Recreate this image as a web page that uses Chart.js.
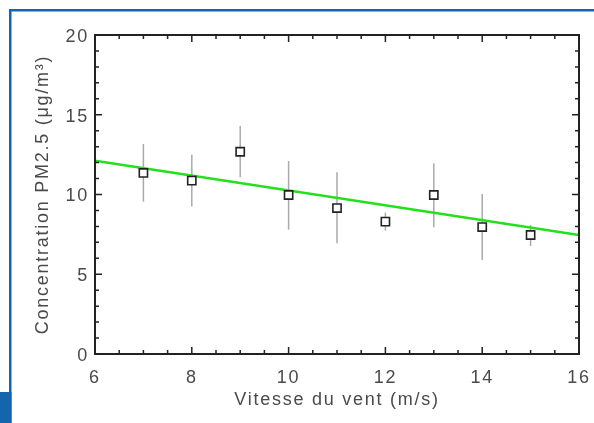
<!DOCTYPE html>
<html>
<head>
<meta charset="utf-8">
<script src="https://cdn.jsdelivr.net/npm/chart.js@4.4.1/dist/chart.umd.min.js"></script>
<style>
  html, body { margin: 0; padding: 0; background: #fff; }
  #wrap { width: 594px; height: 423px; position: relative; }
</style>
</head>
<body>
<div id="wrap"><canvas id="chart" width="594" height="423"></canvas></div>
<script>
// wind speed (m/s) and mean PM2.5 concentration with error bar limits
const windSpeed = [7, 8, 9, 10, 11, 12, 13, 14, 15];
const pm25 = [11.35, 10.87, 12.68, 9.97, 9.15, 8.3, 9.97, 7.96, 7.46];
const errLow = [9.55, 9.24, 11.08, 7.8, 6.94, 7.73, 7.94, 5.9, 6.77];
const errHigh = [13.17, 12.5, 14.3, 12.1, 11.4, 8.86, 11.96, 10.03, 8.09];

// linear fit end points
const fitX = [6, 16];
const fitY = [12.12, 7.46];

const xTicks = [6, 8, 10, 12, 14, 16];
const yTicks = [0, 5, 10, 15, 20];

const textColor = '#4a4a4a';
const axisColor = '#222';

// blue page frame behind the figure, and the wide letter spacing of the labels
const framePlugin = {
	id: 'frame',
	beforeDraw(chart) {
		const ctx = chart.ctx;
		ctx.save();
		ctx.fillStyle = '#fff';
		ctx.fillRect(0, 0, chart.width, chart.height);
		ctx.fillStyle = '#1464ae';
		ctx.fillRect(9, 9, chart.width - 9, 2.5);
		ctx.fillRect(9, 9, 2.5, chart.height - 9);
		ctx.fillRect(0, 392, 11.5, chart.height - 392);
		ctx.restore();
		ctx.letterSpacing = '1.75px';
	},
};

// vertical error bars, drawn under the markers
const errorBarPlugin = {
	id: 'errorBars',
	beforeDatasetsDraw(chart) {
		const { ctx, scales } = chart;
		ctx.save();
		ctx.strokeStyle = '#aaa';
		ctx.lineWidth = 1.5;
		windSpeed.forEach((x, i) => {
			const px = scales.x.getPixelForValue(x);
			ctx.beginPath();
			ctx.moveTo(px, scales.y.getPixelForValue(errLow[i]));
			ctx.lineTo(px, scales.y.getPixelForValue(errHigh[i]));
			ctx.stroke();
		});
		ctx.restore();
	},
};

// box around the plot with inward ticks on every side
const boxPlugin = {
	id: 'box',
	afterDraw(chart) {
		const { ctx, chartArea: a, scales } = chart;
		ctx.save();
		ctx.strokeStyle = axisColor;
		ctx.lineWidth = 2;
		ctx.strokeRect(a.left, a.top, a.right - a.left, a.bottom - a.top);
		ctx.lineWidth = 1.5;
		ctx.beginPath();
		for (let v = 6; v <= 16.001; v += 0.5) {
			const px = scales.x.getPixelForValue(v);
			const len = v % 2 === 0 ? 7 : 4;
			ctx.moveTo(px, a.bottom);
			ctx.lineTo(px, a.bottom - len);
			ctx.moveTo(px, a.top);
			ctx.lineTo(px, a.top + len);
		}
		for (let v = 0; v <= 20; v += 1) {
			const py = scales.y.getPixelForValue(v);
			const len = v % 5 === 0 ? 7 : 4;
			ctx.moveTo(a.left, py);
			ctx.lineTo(a.left + len, py);
			ctx.moveTo(a.right, py);
			ctx.lineTo(a.right - len, py);
		}
		ctx.stroke();
		ctx.restore();
	},
};

const font = { family: '"Liberation Sans", Arial, sans-serif', size: 18 };

new Chart(document.getElementById('chart'), {
	type: 'scatter',
	data: {
		datasets: [
			{
				label: 'PM2.5',
				data: windSpeed.map((x, i) => ({ x, y: pm25[i] })),
				pointStyle: 'rect',
				pointRadius: 5.8,
				pointBorderWidth: 1.6,
				pointBorderColor: '#222',
				pointBackgroundColor: '#fff',
				order: 0,
			},
			{
				label: 'fit',
				type: 'line',
				data: fitX.map((x, i) => ({ x, y: fitY[i] })),
				borderColor: '#22e01c',
				borderWidth: 2.5,
				pointRadius: 0,
				fill: false,
				order: 1,
			},
		],
	},
	options: {
		responsive: false,
		animation: false,
		layout: { padding: { left: 0, top: 35, right: 15, bottom: 0 } },
		plugins: {
			legend: { display: false },
			tooltip: { enabled: false },
		},
		scales: {
			x: {
				type: 'linear',
				min: 6,
				max: 16,
				afterBuildTicks: (scale) => {
					scale.ticks = xTicks.map((v) => ({ value: v }));
				},
				afterFit: (scale) => {
					scale.height = 69;
					scale.paddingLeft = 0;
					scale.paddingRight = 0;
				},
				grid: { display: false, drawTicks: false },
				border: { display: false },
				ticks: { color: textColor, font, padding: 13, maxRotation: 0 },
				title: {
					display: true,
					text: 'Vitesse du vent (m/s)',
					color: textColor,
					font,
					padding: { top: 0, bottom: 12 },
				},
			},
			y: {
				type: 'linear',
				min: 0,
				max: 20,
				afterBuildTicks: (scale) => {
					scale.ticks = yTicks.map((v) => ({ value: v }));
				},
				afterFit: (scale) => {
					scale.width = 95;
					scale.paddingTop = 0;
					scale.paddingBottom = 0;
				},
				grid: { display: false, drawTicks: false },
				border: { display: false },
				ticks: { color: textColor, font, padding: 6, labelOffset: 2 },
				title: {
					display: true,
					text: 'Concentration PM2.5 (μg/m³)',
					color: textColor,
					font,
					padding: { top: 32, bottom: 0 },
				},
			},
		},
	},
	plugins: [framePlugin, errorBarPlugin, boxPlugin],
});
</script>
</body>
</html>
